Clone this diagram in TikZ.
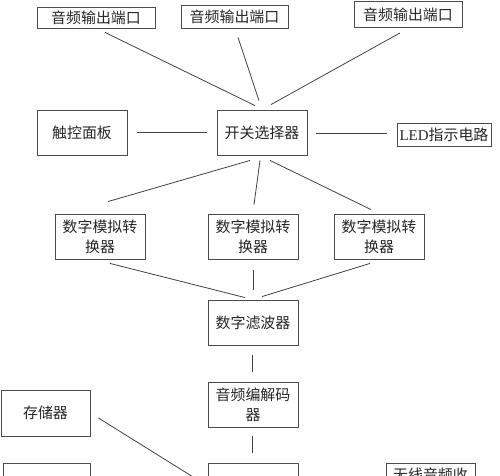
\documentclass[tikz,border=0pt]{standalone}
\usepackage{fontspec}
\setmainfont{Liberation Serif}
\newfontfamily\cjk{Noto Sans CJK SC}
\usetikzlibrary{calc}
\def\px{0.02cm}
\tikzset{
	blk/.style={draw=black!70, line width=0.5pt, minimum width=90*\px, minimum height=45*\px, inner sep=0pt, align=center,
		font=\cjk\fontsize{8.5}{11.3}\selectfont, text=black!85},
	lnk/.style={line width=0.45pt, color=black!75}
}

\begin{document}
\begin{tikzpicture}[x=0.02cm, y=-0.02cm]
		%%%%% START %%%%%
		\useasboundingbox (0, 0) rectangle (500, 476);
		\clip (0, 0) rectangle (500, 476);
		
		% output ports
		\node[blk, minimum width=118*\px, minimum height=21*\px] (out1) at (96, 17.5) {音频输出端口};
		\node[blk, minimum width=107*\px, minimum height=23*\px] (out2) at (234.5, 16.5) {音频输出端口};
		\node[blk, minimum width=108*\px, minimum height=26*\px] (out3) at (408, 14.5) {音频输出端口};
		
		\node[blk] (touch) at (82, 132.5) {触控面板};
		\node[blk] (sel) at (262, 132.5) {开关选择器};
		\node[blk, minimum width=94*\px, minimum height=23*\px] (led) at (444, 134.5) {{\rmfamily LED}指示电路};
		
		% converters
		\node[blk] (dac1) at (100, 236.5) {数字模拟转\\换器};
		\node[blk] (dac2) at (253, 236.5) {数字模拟转\\换器};
		\node[blk] (dac3) at (379, 236.5) {数字模拟转\\换器};
		
		\node[blk] (filt) at (253, 322.5) {数字滤波器};
		\node[blk] (codec) at (253, 404.5) {音频编解码\\器};
		
		\node[blk, minimum width=89*\px, minimum height=46*\px] (mem) at (45.5, 413) {存储器};
		
		% bottom row, cut off by the page
		\node[blk, minimum width=87*\px] (botl) at (46.5, 485.5) {};
		\node[blk] (botc) at (253, 485.5) {};
		\node[blk, minimum width=89*\px] (wrx) at (430.5, 485.5) {};
		\node[blk, draw=none, minimum width=0pt, minimum height=0pt] (wrxt) at ($(wrx.north)+(0, 12.5)$) {无线音频收};
		
		\draw[lnk] ($(out1.south)+(9, 4)$) -- ($(sel.north)+(-7, -4)$);
		\draw[lnk] ($(out2.south)+(3.5, 9)$) -- ($(sel.north)+(-3, -9)$);
		\draw[lnk] ($(out3.south)+(-8, 5)$) -- ($(sel.north)+(9, -5)$);
		
		\draw[lnk, shorten <=10*\px, shorten >=10*\px] (touch.east) -- (sel.west);
		\coordinate (selr) at ($(sel.east)+(0, 0.5)$);
		\draw[lnk, shorten <=9*\px, shorten >=10*\px] (selr) -- (selr -| led.west);
		
		\draw[lnk] ($(sel.south)+(-12, 5)$) -- ($(dac1.north)+(8, -12)$);
		\draw[lnk] ($(sel.south)+(-2, 5)$) -- ($(dac2.north)+(1, -9)$);
		\draw[lnk] ($(sel.south)+(8, 5)$) -- ($(dac3.north)+(-8, -4)$);
		
		\draw[lnk] ($(dac1.south)+(10, 4)$) -- ($(filt.north)+(-8, -2)$);
		\draw[lnk, shorten <=11*\px, shorten >=10*\px] (dac2.south) -- (filt.north);
		\draw[lnk] ($(dac3.south)+(-9, 4)$) -- ($(filt.north)+(9, -3)$);
		
		\draw[lnk, shorten <=10*\px, shorten >=10*\px] ([xshift=-\px]filt.south) -- ([xshift=-\px]codec.north);
		\draw[lnk, shorten <=9*\px, shorten >=10*\px] ([xshift=-\px]codec.south) -- ([xshift=-\px]botc.north);
		
		\draw[lnk] ($(mem.east)+(8, 5)$) -- ($(botc.west)+(-8, -4.5)$);
		%%%%% END %%%%%
\end{tikzpicture}
\end{document}
